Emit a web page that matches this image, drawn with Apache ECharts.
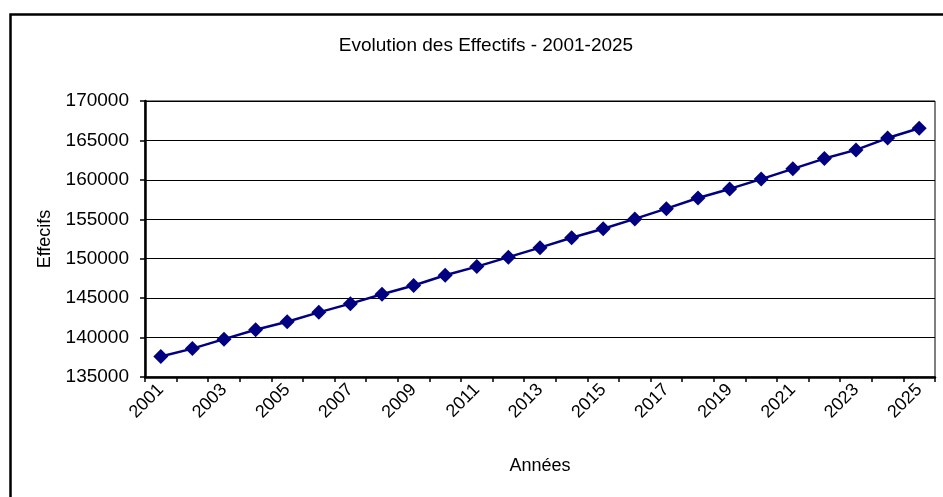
<!DOCTYPE html>
<html>
<head>
<meta charset="utf-8">
<script src="https://cdn.jsdelivr.net/npm/echarts@6/dist/echarts.min.js"></script>
<style>
html,body{margin:0;padding:0;background:#fff;}
#chart{width:943px;height:497px;}
</style>
</head>
<body>
<div id="chart"></div>
<script>
var years = ['2001','2002','2003','2004','2005','2006','2007','2008','2009','2010','2011','2012','2013','2014','2015','2016','2017','2018','2019','2020','2021','2022','2023','2024','2025'];
var effectifs = [137600,138600,139800,141000,142000,143200,144300,145500,146600,147900,149000,150200,151400,152650,153800,155050,156350,157700,158850,160100,161400,162700,163800,165300,166550];
var chartTitle = 'Evolution des Effectifs - 2001-2025';
var xTitle = 'Années';
var yTitle = 'Effecifs';

var font = 'Liberation Sans, Arial, sans-serif';
var chart = echarts.init(document.getElementById('chart'), null, {renderer:'canvas'});
chart.setOption({
  backgroundColor:'#fff',
  animation:false,
  title:{
    text:chartTitle, left:481, top:31, textAlign:'center',
    textStyle:{fontFamily:font, fontSize:19, fontWeight:'normal', color:'#000'}
  },
  graphic:[{
    type:'rect', left:8, top:12, shape:{width:1000, height:1000},
    style:{fill:'none', stroke:'#000', lineWidth:2.5}, silent:true
  }],
  grid:{left:145, right:8, top:101, bottom:120, show:true, borderColor:'#000', borderWidth:1, backgroundColor:'transparent'},
  xAxis:{
    type:'category', data:years, boundaryGap:true,
    name:xTitle, nameLocation:'middle', nameGap:80,
    nameTextStyle:{fontFamily:font, fontSize:18, color:'#000'},
    axisLine:{show:true, lineStyle:{color:'#000', width:2.5}},
    axisTick:{show:true, alignWithLabel:false, interval:0, length:5, lineStyle:{color:'#000', width:1.5}},
    axisLabel:{interval:1, rotate:45, margin:10, fontFamily:font, fontSize:18, color:'#000'},
    splitLine:{show:false}
  },
  yAxis:{
    type:'value', min:135000, max:170000, interval:5000,
    name:yTitle, nameLocation:'middle', nameGap:91, nameRotate:90,
    nameTextStyle:{fontFamily:font, fontSize:18, color:'#000'},
    axisLine:{show:true, lineStyle:{color:'#000', width:2.5}},
    axisTick:{show:true, length:5, lineStyle:{color:'#000', width:1.5}},
    axisLabel:{margin:16, fontFamily:font, fontSize:19, color:'#000', formatter:function(v){return String(v);}},
    splitLine:{show:true, lineStyle:{color:'#000', width:1}}
  },
  series:[{
    type:'line', data:effectifs,
    symbol:'diamond', symbolSize:15,
    lineStyle:{color:'#000080', width:2.5},
    itemStyle:{color:'#000080'}
  }]
});
</script>
</body>
</html>
